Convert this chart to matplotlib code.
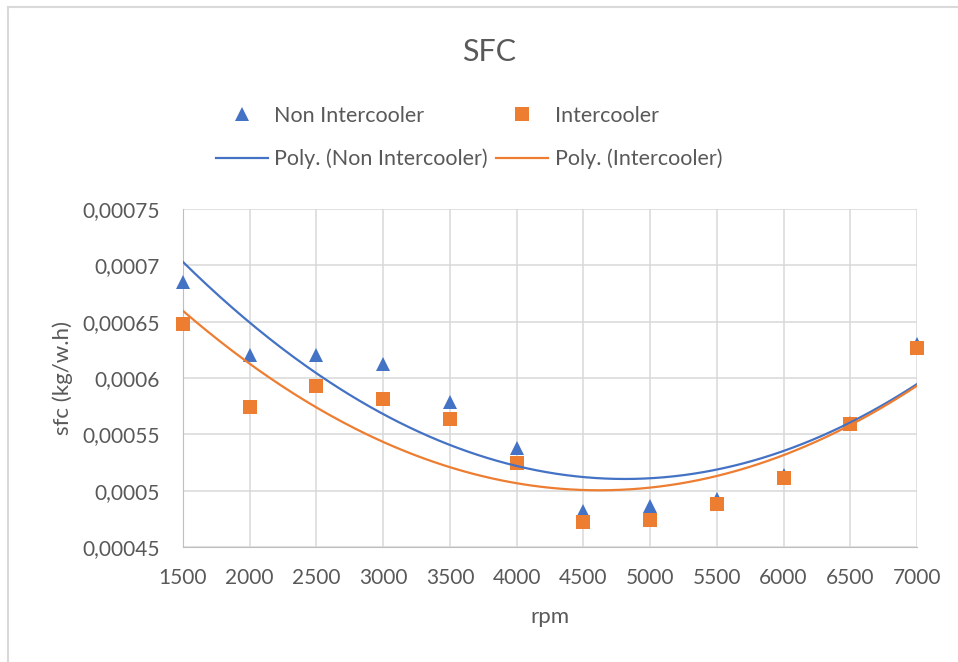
import numpy as np
import matplotlib
matplotlib.use('Agg')
import matplotlib.pyplot as plt
from matplotlib.ticker import FuncFormatter, MultipleLocator
from matplotlib.lines import Line2D

plt.rcParams['font.family'] = ['Lato', 'DejaVu Sans']

rpm = [1500, 2000, 2500, 3000, 3500, 4000, 4500, 5000, 5500, 6000, 6500, 7000]
sfc_non_ic = [0.000685, 0.000620, 0.000620, 0.000612, 0.000579, 0.000538,
              0.000482, 0.000486, 0.000493, 0.000514, 0.000560, 0.000630]
sfc_ic = [0.000648, 0.000574, 0.000593, 0.000581, 0.000564, 0.000525,
          0.000472, 0.000474, 0.000488, 0.000511, 0.000559, 0.000627]

blue = '#4472C4'
orange = '#ED7D31'
grey_txt = '#595959'
grid_c = '#D9D9D9'

fig = plt.figure(figsize=(9.58, 6.62), dpi=100)
ax = fig.add_axes([183/958, 1 - 547/662, (917 - 183)/958, (547 - 209)/662])

ax.plot(rpm, sfc_non_ic, '^', color=blue, markersize=10.5, markeredgewidth=0, zorder=3, clip_on=False)
ax.plot(rpm, sfc_ic, 's', color=orange, markersize=10, markeredgewidth=0, zorder=4, clip_on=False)

# second order trendlines, like the spreadsheet "Poly." fits
xs = np.linspace(rpm[0], rpm[-1], 300)
for vals, c in [(sfc_non_ic, blue), (sfc_ic, orange)]:
    coef = np.polyfit(rpm, vals, 2)
    ax.plot(xs, np.polyval(coef, xs), color=c, lw=1.6, zorder=5)

ax.set_xlim(1500, 7000)
ax.set_ylim(0.00045, 0.00075)
ax.xaxis.set_major_locator(MultipleLocator(500))
ax.yaxis.set_major_locator(MultipleLocator(0.00005))
ax.yaxis.set_major_formatter(FuncFormatter(lambda v, p: f'{v:.5f}'.rstrip('0').replace('.', ',')))
ax.grid(True, color=grid_c, lw=1.1)
ax.set_axisbelow(True)
for s in ax.spines.values():
    s.set_visible(False)
ax.spines['left'].set_visible(True)
ax.spines['bottom'].set_visible(True)
ax.spines['left'].set_color('#BFBFBF')
ax.spines['bottom'].set_color('#BFBFBF')
ax.tick_params(length=0, labelsize=15, colors=grey_txt)
ax.tick_params(axis='y', pad=17)
ax.tick_params(axis='x', pad=15)

fig.text(489/958, 1 - 52/662, 'SFC', ha='center', va='center', fontsize=22, color=grey_txt)
fig.text(550/958, 1 - 617/662, 'rpm', ha='center', va='center', fontsize=16, color=grey_txt)
fig.text(63/958, 1 - 378/662, 'sfc (kg/w.h)', ha='center', va='center', rotation=90,
         fontsize=16, color=grey_txt)

handles = [
    Line2D([], [], marker='^', ls='none', color=blue, markersize=10.5, markeredgewidth=0),
    Line2D([], [], color=blue, lw=1.6),
    Line2D([], [], marker='s', ls='none', color=orange, markersize=10, markeredgewidth=0),
    Line2D([], [], color=orange, lw=1.6),
]
labels = ['Non Intercooler', 'Poly. (Non Intercooler)', 'Intercooler', 'Poly. (Intercooler)']
leg = fig.legend(handles, labels, ncol=2, loc='center', bbox_to_anchor=(469/958, 1 - 137.5/662),
                 frameon=False, fontsize=15.5, handlelength=2.42, handletextpad=0.3,
                 columnspacing=0.4, labelspacing=1.05)
for t in leg.get_texts():
    t.set_color(grey_txt)

# chart area outline
fig.add_artist(Line2D([8/958, 8/958], [0, 1 - 7/662], transform=fig.transFigure, color=grid_c, lw=1.5))
fig.add_artist(Line2D([8/958, 1], [1 - 7/662, 1 - 7/662], transform=fig.transFigure, color=grid_c, lw=1.5))

fig.savefig('out.png', dpi=100)
